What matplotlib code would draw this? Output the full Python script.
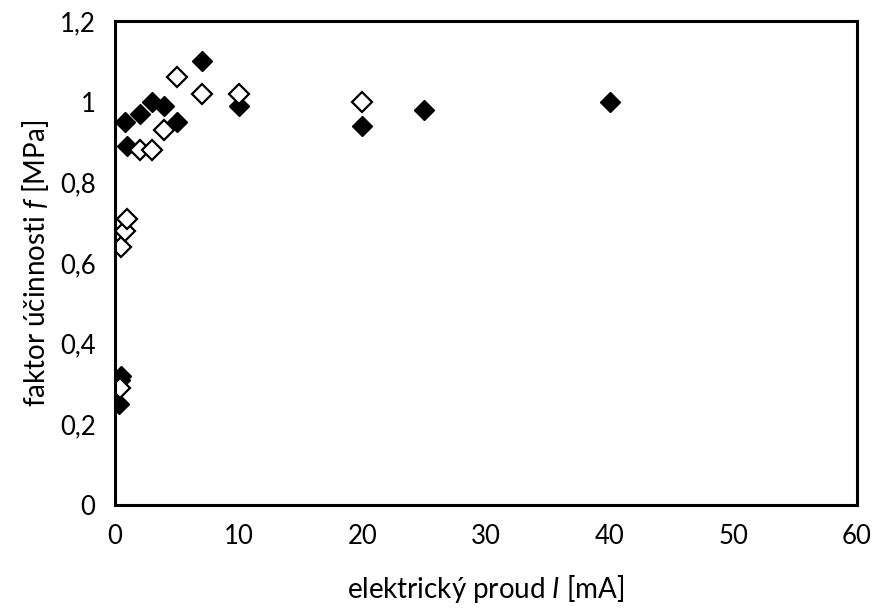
import matplotlib
matplotlib.use('Agg')
import matplotlib.pyplot as plt

# filled diamonds
I_full = [0.3, 0.4, 0.5, 0.8, 1, 2, 3, 4, 5, 7, 10, 20, 25, 40]
f_full = [0.25, 0.31, 0.32, 0.95, 0.89, 0.97, 1.0, 0.99, 0.95, 1.1, 0.99, 0.94, 0.98, 1.0]

# open diamonds
I_open = [0.4, 0.5, 0.8, 1, 2, 3, 4, 5, 7, 10, 20]
f_open = [0.29, 0.64, 0.68, 0.71, 0.88, 0.88, 0.93, 1.06, 1.02, 1.02, 1.0]

x_ticks = [0, 10, 20, 30, 40, 50, 60]
y_ticks = [0, 0.2, 0.4, 0.6, 0.8, 1.0, 1.2]

plt.rcParams['font.family'] = ['Lato', 'DejaVu Sans']
plt.rcParams['mathtext.fontset'] = 'custom'
plt.rcParams['mathtext.it'] = 'Lato:italic'
plt.rcParams['mathtext.rm'] = 'Lato'

fig = plt.figure(figsize=(8.77, 6.08), dpi=100)
ax = fig.add_axes([0.1311, 0.1694, 0.8461, 0.7961])

ax.plot(I_full, f_full, 'D', color='black', markersize=10, linestyle='none')
ax.plot(I_open, f_open, 'D', markerfacecolor='white', markeredgecolor='black',
        markeredgewidth=1.6, markersize=10, linestyle='none')

ax.set_xlim(0, 60)
ax.set_ylim(0, 1.2)
ax.set_xticks(x_ticks)
ax.set_yticks(y_ticks)
ax.set_xticklabels([str(v) for v in x_ticks])
ax.set_yticklabels(['0', '0,2', '0,4', '0,6', '0,8', '1', '1,2'])
ax.tick_params(length=0, labelsize=18.5, pad=14)
for s in ax.spines.values():
    s.set_linewidth(2.2)

ax.set_xlabel(r'elektrický proud $I$ [mA]', fontsize=20, labelpad=17)
ax.set_ylabel(r'faktor účinnosti $f$ [MPa]', fontsize=20, labelpad=6)

plt.savefig('out.png', dpi=100)
